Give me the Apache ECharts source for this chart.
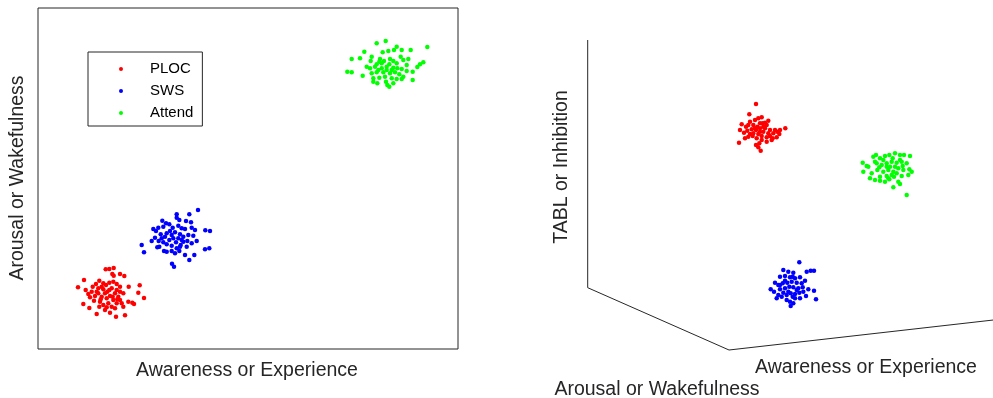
<!DOCTYPE html>
<html>
<head>
<meta charset="utf-8">
<script src="https://cdn.jsdelivr.net/npm/echarts@6/dist/echarts.min.js"></script>
<style>html,body{margin:0;padding:0;background:#fff}#c{width:993px;height:398px}</style>
</head>
<body>
<div id="c"></div>
<script>
// ---------- Left panel (2D): [Awareness, Arousal] ----------
const ploc2d = [[6.77,7.97],[7.13,8.00],[7.57,8.10],[7.43,7.50],[7.57,7.33],[8.20,7.50],[8.63,7.30],[4.60,6.90],[4.00,6.17],[4.77,5.90],[5.47,6.23],[5.80,6.50],[6.13,6.83],[6.53,6.57],[6.80,6.40],[7.13,6.63],[7.53,6.73],[7.87,6.50],[8.20,6.23],[9.07,6.23],[10.17,6.37],[10.03,5.63],[10.60,5.10],[9.43,4.63],[9.60,4.50],[4.53,4.50],[5.13,4.10],[5.87,3.50],[6.70,3.90],[7.20,3.63],[7.80,3.23],[8.70,3.37],[8.53,4.23],[7.87,4.57],[5.03,5.50],[5.20,5.17],[5.60,4.83],[6.03,5.57],[6.37,5.23],[6.53,5.97],[6.93,5.73],[7.37,6.07],[7.70,5.57],[8.03,5.23],[8.20,4.90],[7.53,4.90],[7.03,4.57],[6.53,4.40],[6.13,4.23],[5.70,5.30],[5.37,5.73],[7.20,5.30],[6.87,5.07],[7.87,5.90],[8.20,5.73],[6.20,4.73],[6.37,6.23],[6.03,6.07],[8.53,5.57],[8.37,4.57],[7.37,4.23],[6.87,4.17],[7.70,4.07],[9.03,4.73],[6.70,5.57],[7.13,5.90],[7.47,5.23],[7.93,4.97],[5.87,5.73],[6.27,4.97]];
const sws2d = [[13.87,13.47],[15.13,13.47],[16.00,13.90],[13.87,13.13],[12.43,12.83],[12.80,12.57],[14.13,12.90],[14.80,12.80],[15.30,12.67],[11.53,12.00],[11.80,11.80],[12.03,12.13],[12.53,12.23],[13.13,12.47],[13.47,12.13],[14.03,12.33],[14.37,12.07],[14.70,12.00],[15.37,12.13],[15.70,11.90],[16.73,11.87],[17.20,11.80],[11.37,10.80],[10.37,10.40],[10.60,9.67],[11.93,10.17],[12.37,11.07],[12.27,11.47],[12.87,11.57],[13.37,11.40],[13.70,11.67],[14.20,11.47],[14.53,11.23],[15.03,11.40],[15.53,11.33],[15.87,10.80],[15.37,10.57],[14.87,10.23],[14.27,10.40],[13.87,10.07],[13.37,10.33],[12.87,10.47],[12.53,10.67],[13.13,10.90],[13.53,11.07],[14.03,11.07],[12.60,9.80],[12.87,9.73],[13.37,9.80],[14.13,9.80],[14.70,9.40],[15.63,9.40],[15.13,8.90],[13.40,8.53],[13.60,8.23],[16.70,9.97],[17.13,10.07],[12.07,10.80],[11.70,11.13],[13.80,10.67],[14.37,10.90],[14.93,10.80],[12.13,10.23],[13.20,11.80],[14.53,10.73],[13.70,9.57],[14.20,10.23],[12.70,11.23]];
const attend2d = [[33.87,30.57],[34.77,30.80],[35.87,30.23],[35.60,29.90],[35.03,29.80],[34.47,29.67],[36.37,29.90],[37.27,29.90],[38.93,30.20],[32.63,29.73],[31.37,29.00],[32.20,29.07],[33.37,29.23],[33.27,28.80],[34.20,29.00],[34.60,28.80],[35.20,29.00],[35.53,28.80],[36.27,29.23],[36.53,28.90],[37.03,29.00],[38.53,28.67],[38.20,28.47],[37.93,28.20],[30.93,27.73],[31.37,27.67],[32.47,27.33],[33.20,28.07],[33.70,28.23],[34.03,27.90],[34.37,28.07],[34.87,28.23],[35.13,28.47],[35.53,28.13],[35.93,28.07],[36.37,28.00],[36.87,27.80],[37.47,27.73],[33.37,27.57],[33.87,27.67],[34.53,27.67],[35.20,27.57],[35.70,27.67],[36.13,27.47],[36.53,27.23],[33.53,27.07],[34.13,27.13],[34.70,27.23],[35.37,27.07],[35.87,27.00],[36.37,27.00],[37.47,26.90],[33.53,26.73],[33.93,26.57],[34.80,26.73],[34.93,26.40],[35.13,26.23],[35.53,26.57],[34.37,28.57],[33.87,28.47],[35.87,28.57],[32.87,28.23],[35.37,27.90],[34.87,27.90],[36.87,28.40],[34.13,28.73]];

// ---------- Right panel (projected 3D view) ----------
const ploc3d = [[21.60,29.40],[20.93,28.37],[20.17,27.37],[20.60,27.13],[21.00,27.63],[21.50,27.80],[21.83,27.97],[22.17,28.07],[22.83,27.73],[22.67,27.30],[22.33,27.13],[22.00,26.97],[21.60,26.80],[21.17,26.87],[20.73,26.73],[20.40,26.53],[20.00,26.80],[21.33,26.47],[21.83,26.40],[22.33,26.63],[23.00,26.80],[23.33,26.47],[23.73,26.63],[24.00,26.80],[24.53,26.97],[23.93,26.40],[23.67,26.07],[23.17,25.80],[22.67,25.63],[22.17,25.80],[21.67,25.97],[21.27,26.20],[20.83,26.13],[19.90,25.53],[21.60,25.30],[21.83,25.07],[22.07,24.73],[22.00,27.47],[22.50,27.53],[23.00,26.20],[21.33,27.30],[21.73,27.13],[22.83,26.47],[22.17,26.20],[21.00,26.40],[20.50,25.97],[23.50,26.80],[23.27,25.97],[21.93,25.47],[22.00,26.63],[22.50,26.97],[21.50,26.97],[22.67,26.07],[22.27,27.47],[20.83,27.30]];
const sws3d = [[25.93,13.57],[24.33,12.80],[24.83,12.63],[25.33,12.53],[26.67,12.63],[27.07,12.73],[27.40,12.73],[24.00,12.13],[24.50,12.20],[25.00,12.07],[25.50,11.97],[26.00,12.07],[23.50,11.53],[23.83,11.30],[24.27,11.47],[24.73,11.53],[25.17,11.63],[25.67,11.53],[26.17,11.47],[26.50,11.73],[23.07,10.87],[23.40,10.63],[24.00,10.87],[24.50,10.97],[24.93,11.13],[25.33,11.07],[25.83,10.97],[26.27,11.07],[26.83,10.87],[27.40,10.73],[23.67,9.97],[24.17,10.13],[24.67,10.30],[25.07,10.47],[25.50,10.40],[25.93,10.53],[26.60,10.20],[27.60,9.87],[24.67,9.80],[25.00,9.63],[25.33,9.47],[25.07,9.20],[25.50,9.97],[24.00,11.30],[24.83,10.63],[25.67,10.80],[24.33,10.53],[25.27,10.13],[26.33,10.63],[23.83,10.30],[26.00,9.97],[24.50,11.73],[25.27,12.13]];
const attend3d = [[36.67,20.30],[35.33,21.07],[36.00,21.40],[35.83,21.63],[33.00,21.97],[33.50,21.80],[34.00,21.73],[34.50,21.63],[34.93,21.87],[35.40,22.13],[36.17,22.20],[36.83,22.30],[37.17,22.63],[36.93,22.87],[32.33,22.63],[32.27,23.53],[32.67,23.20],[33.33,24.13],[33.60,24.30],[34.00,23.97],[34.50,24.20],[34.93,24.30],[35.50,24.47],[36.00,24.30],[36.40,24.30],[37.00,24.20],[33.67,23.47],[34.17,23.30],[34.67,23.47],[35.17,23.63],[35.67,23.53],[36.17,23.63],[36.67,23.47],[33.73,22.80],[34.33,22.63],[34.83,22.80],[35.33,22.63],[35.83,22.97],[36.33,22.80],[34.00,22.13],[34.67,22.20],[35.17,22.30],[32.83,23.13],[33.50,23.63],[35.00,23.13],[35.50,23.13],[34.33,23.80],[36.00,23.80],[33.17,22.47],[35.67,22.47],[34.67,23.13],[33.93,23.07],[35.27,23.97],[36.27,23.20],[34.83,21.97]];
// projected box edges of the 3D axes (z axis, arousal axis, awareness axis)
const frame3d = [[4.77,35.8],[4.77,11.03],[18.9,4.8],[45.33,7.8]];

const names = ['PLOC','SWS','Attend'];
const colors = ['#ff0000','#0000ff','#00ff00'];
const xTitle = 'Awareness or Experience';
const yTitle = 'Arousal or Wakefulness';
const zTitle = 'TABL or Inhibition';

const FONT = '"Liberation Sans", Arial, sans-serif';
const TXT = '#262626';

const chart = echarts.init(document.getElementById('c'), null, {renderer:'canvas'});
const hiddenAxis = (gi, min, max) => ({gridIndex: gi, type:'value', min, max, show:false});

function sc(name, data, i, gi) {
  return {type:'scatter', name, data, xAxisIndex: gi, yAxisIndex: gi,
    symbol:'circle', symbolSize: 4.5, itemStyle:{color: colors[i], opacity:1},
    silent:true, animation:false};
}
function label(text, x, y, rot) {
  return {type:'text', x, y, rotation: rot || 0,
    style:{text, font:'19.5px '+FONT, fill:TXT, textAlign:'center', textVerticalAlign:'middle'}};
}

chart.setOption({
  animation:false,
  textStyle:{fontFamily: FONT},
  grid:[
    {left:38, top:8, width:420, height:341, show:true, borderColor:TXT, borderWidth:1, backgroundColor:'#fff'},
    {left:540, top:0, width:453, height:398, show:false}
  ],
  xAxis:[hiddenAxis(0,0,42), hiddenAxis(1,0,45.3)],
  yAxis:[hiddenAxis(0,0,34.1), hiddenAxis(1,0,39.8)],
  legend:{
    data:names, orient:'vertical', left:88, top:52,
    padding:[8,9,4,31], itemGap:4, itemWidth:4, itemHeight:4, icon:'circle',
    borderColor:TXT, borderWidth:1, backgroundColor:'#fff',
    selectedMode:false,
    textStyle:{fontFamily:FONT, fontSize:15, color:'#000', padding:[0,0,0,22], lineHeight:18}
  },
  graphic:[
    label(xTitle, 247, 371),
    label(yTitle, 18, 178, Math.PI/2),
    label(zTitle, 562, 167, Math.PI/2),
    label(xTitle, 866, 368),
    label(yTitle, 657, 390)
  ],
  series:[
    sc(names[0], ploc2d, 0, 0),
    sc(names[1], sws2d, 1, 0),
    sc(names[2], attend2d, 2, 0),
    {type:'line', data:frame3d, xAxisIndex:1, yAxisIndex:1, symbol:'none', silent:true,
     lineStyle:{color:TXT, width:1}, z:1, clip:false},
    sc(names[0], ploc3d, 0, 1),
    sc(names[1], sws3d, 1, 1),
    sc(names[2], attend3d, 2, 1)
  ]
});
</script>
</body>
</html>
